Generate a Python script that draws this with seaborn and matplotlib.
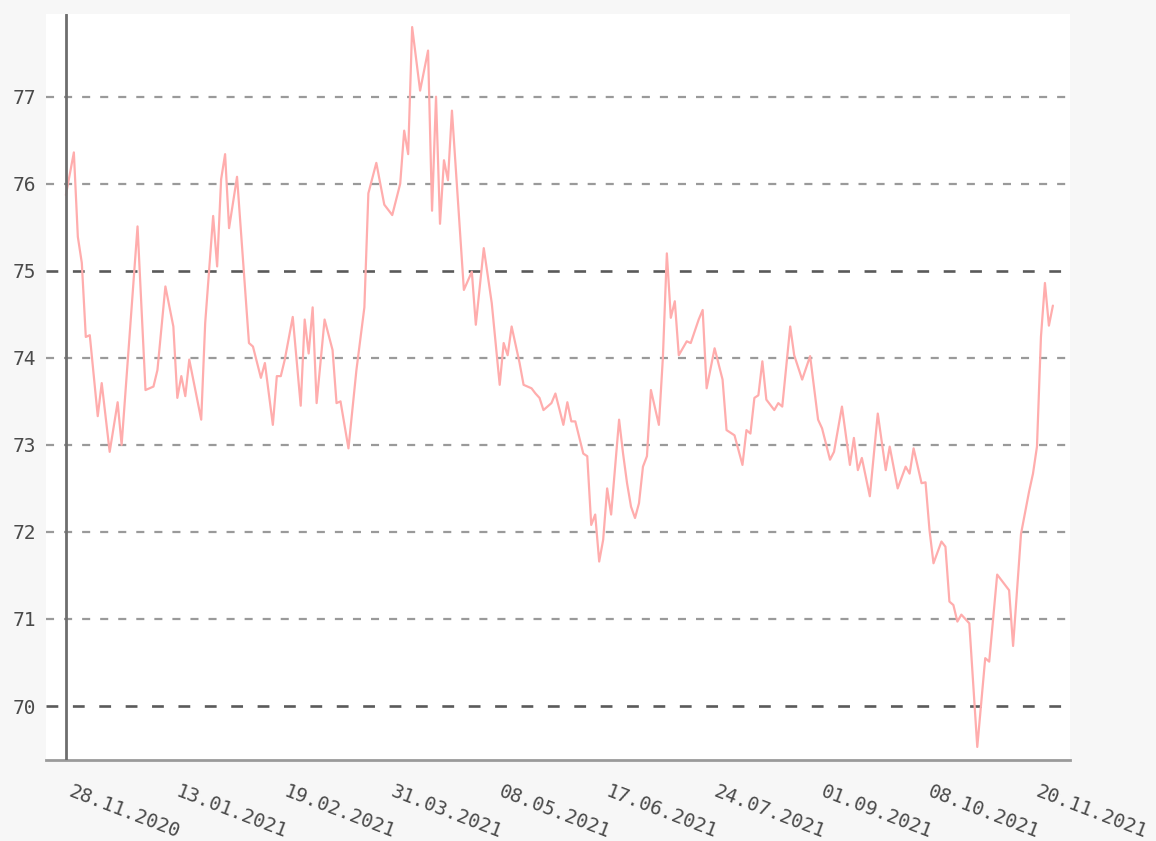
import matplotlib
matplotlib.use("Agg")
import matplotlib.pyplot as plt
import matplotlib.transforms as mtransforms
import seaborn as sns
import pandas as pd

# ---- data ----
day_index = [0, 2, 3, 4, 5, 6, 8, 9, 11, 13, 14, 18, 20, 22, 23, 25, 27, 28, 29, 30,
             31, 34, 35, 37, 38, 39, 40, 41, 43, 46, 47, 49, 50, 52, 53, 54, 55, 57, 59, 60,
             61, 62, 63, 65, 67, 68, 69, 71, 73, 75, 76, 78, 80, 82, 84, 85, 86, 87, 89, 91,
             92, 93, 94, 95, 96, 97, 99, 100, 102, 103, 105, 107, 109, 110, 111, 112, 114, 115, 117, 118,
             119, 120, 122, 123, 125, 126, 127, 128, 130, 131, 132, 133, 134, 135, 136, 137, 139, 140, 141, 142,
             143, 144, 145, 146, 147, 149, 150, 151, 152, 153, 154, 156, 157, 159, 160, 161, 163, 165, 166, 168,
             170, 171, 172, 173, 174, 175, 176, 178, 179, 180, 182, 183, 185, 187, 189, 190, 192, 193, 195, 197,
             198, 199, 200, 202, 204, 206, 207, 209, 211, 212, 213, 215, 216, 217, 218, 220, 221, 222, 223, 224,
             225, 227, 229, 231, 232, 234, 237, 238, 240, 242, 243, 244, 245, 246, 247, 248]
rate = [75.87, 76.36, 75.39, 75.09, 74.24, 74.26, 73.33, 73.71, 72.92, 73.49, 73.00, 75.51, 73.63, 73.67, 73.86, 74.82, 74.36, 73.54, 73.79, 73.56,
        73.98, 73.29, 74.40, 75.63, 75.05, 76.05, 76.34, 75.49, 76.08, 74.17, 74.13, 73.77, 73.94, 73.23, 73.79, 73.79, 73.98, 74.47, 73.45, 74.44,
        74.05, 74.58, 73.48, 74.44, 74.09, 73.48, 73.50, 72.96, 73.86, 74.58, 75.89, 76.24, 75.76, 75.64, 76.00, 76.61, 76.34, 77.80, 77.07, 77.53,
        75.69, 77.00, 75.54, 76.27, 76.04, 76.84, 75.47, 74.78, 74.99, 74.38, 75.26, 74.63, 73.69, 74.17, 74.03, 74.36, 73.94, 73.69, 73.65, 73.59,
        73.54, 73.40, 73.48, 73.59, 73.23, 73.49, 73.27, 73.27, 72.90, 72.87, 72.08, 72.20, 71.66, 71.91, 72.50, 72.20, 73.29, 72.90, 72.56, 72.29,
        72.16, 72.33, 72.75, 72.87, 73.63, 73.23, 74.00, 75.20, 74.46, 74.65, 74.03, 74.19, 74.17, 74.44, 74.55, 73.65, 74.11, 73.75, 73.17, 73.11,
        72.77, 73.17, 73.13, 73.54, 73.57, 73.96, 73.52, 73.40, 73.48, 73.44, 74.36, 74.03, 73.75, 74.02, 73.29, 73.19, 72.83, 72.92, 73.44, 72.77,
        73.08, 72.71, 72.85, 72.41, 73.36, 72.71, 72.98, 72.50, 72.75, 72.67, 72.96, 72.56, 72.57, 72.02, 71.64, 71.89, 71.83, 71.20, 71.16, 70.97,
        71.05, 70.95, 69.53, 70.55, 70.51, 71.51, 71.33, 70.69, 71.98, 72.46, 72.67, 72.98, 74.24, 74.86, 74.37, 74.60]
tick_labels = ["28.11.2020", "13.01.2021", "19.02.2021", "31.03.2021", "08.05.2021",
               "17.06.2021", "24.07.2021", "01.09.2021", "08.10.2021", "20.11.2021"]
y_levels = [70, 71, 72, 73, 74, 75, 76, 77]

df = pd.DataFrame({"day": day_index, "rate": rate})

sns.set_theme(style="white")
plt.rcParams["font.family"] = ["DejaVu Sans Mono", "DejaVu Sans"]
plt.rcParams["lines.scale_dashes"] = False

W, H = 1156, 841
fig = plt.figure(figsize=(W / 100, H / 100), dpi=100, facecolor="#f7f7f7")
ax = fig.add_axes([46 / W, 1 - 760 / H, (1070 - 46) / W, (760 - 14) / H])
ax.set_facecolor("white")

# grid lines
for lv in y_levels:
    if lv % 5 == 0:
        ax.axhline(lv, color="#5a5a5a", lw=1.9, dashes=(8.5, 10.5), zorder=1)
    else:
        ax.axhline(lv, color="#9a9a9a", lw=1.6, dashes=(5.8, 7.2), zorder=1)

sns.lineplot(data=df, x="day", y="rate", ax=ax, color="#ffadad", lw=1.6, zorder=3)

ax.set_xlim(-5.0, 252.3)
ax.set_ylim(69.38, 77.95)

# axis line at the first day
ax.axvline(0, color="#6e6e6e", lw=2.0, zorder=4)

for s in ["left", "top", "right"]:
    ax.spines[s].set_visible(False)
ax.spines["bottom"].set_color("#9a9a9a")
ax.spines["bottom"].set_linewidth(2.0)

ax.set_yticks(y_levels)
ax.set_yticklabels([str(v) for v in y_levels])
ax.set_xticks(list(range(0, 27 * len(tick_labels), 27)))
ax.set_xticklabels(tick_labels, rotation=-21, ha="left", va="top", rotation_mode="anchor")
ax.tick_params(axis="y", length=0, pad=7, labelsize=14, labelcolor="#4a4a4a")
ax.tick_params(axis="x", length=0, pad=16, labelsize=14, labelcolor="#4a4a4a")
offset = mtransforms.ScaledTranslation(7 / 100, 0, fig.dpi_scale_trans)
for lab in ax.get_xticklabels():
    lab.set_transform(lab.get_transform() + offset)
ax.set_xlabel("")
ax.set_ylabel("")

fig.savefig("out.png", dpi=100, facecolor=fig.get_facecolor())
